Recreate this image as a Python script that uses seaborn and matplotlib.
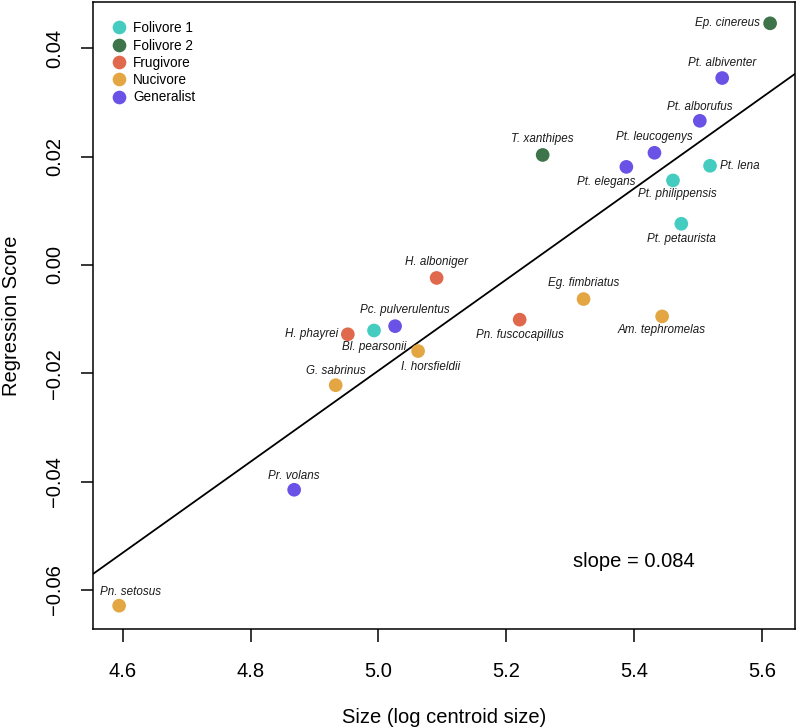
import numpy as np
import pandas as pd
import matplotlib
matplotlib.use("Agg")
import matplotlib.pyplot as plt
import seaborn as sns

# species, diet group, size (log centroid size), regression score
species = [
    "Ep. cinereus", "Pt. albiventer", "Pt. alborufus", "Pt. leucogenys",
    "Pt. elegans", "Pt. lena", "Pt. philippensis", "Pt. petaurista",
    "T. xanthipes", "H. alboniger", "Eg. fimbriatus", "Am. tephromelas",
    "Pn. fuscocapillus", "Pc. pulverulentus", "Bl. pearsonii", "H. phayrei",
    "I. horsfieldii", "G. sabrinus", "Pr. volans", "Pn. setosus",
]
diet = [
    "Folivore 2", "Generalist", "Generalist", "Generalist",
    "Generalist", "Folivore 1", "Folivore 1", "Folivore 1",
    "Folivore 2", "Frugivore", "Nucivore", "Nucivore",
    "Frugivore", "Generalist", "Folivore 1", "Frugivore",
    "Nucivore", "Nucivore", "Generalist", "Nucivore",
]
size = [
    5.613, 5.538, 5.503, 5.432,
    5.388, 5.519, 5.461, 5.474,
    5.257, 5.091, 5.321, 5.444,
    5.221, 5.026, 4.993, 4.952,
    5.062, 4.933, 4.868, 4.594,
]
score = [
    0.0446, 0.0345, 0.0266, 0.0207,
    0.0181, 0.0183, 0.0156, 0.0076,
    0.0203, -0.0024, -0.0063, -0.0095,
    -0.0101, -0.0113, -0.0121, -0.0128,
    -0.0159, -0.0222, -0.0415, -0.0629,
]

groups = ["Folivore 1", "Folivore 2", "Frugivore", "Nucivore", "Generalist"]
colors = ["#45CCC0", "#3D7449", "#E0684C", "#E3A642", "#6B52E6"]

slope = 0.084
intercept = -0.4395

x_ticks = [4.6, 4.8, 5.0, 5.2, 5.4, 5.6]
y_ticks = [-0.06, -0.04, -0.02, 0.00, 0.02, 0.04]

# label placement: offset in pixels from the point, horizontal alignment
label_pos = {
    "Ep. cinereus": (-10, 0, "right"),
    "Pt. albiventer": (0, 15, "center"),
    "Pt. alborufus": (0, 14, "center"),
    "Pt. leucogenys": (0, 16, "center"),
    "Pt. elegans": (-20, -15, "center"),
    "Pt. lena": (10, 0, "left"),
    "Pt. philippensis": (4, -14, "center"),
    "Pt. petaurista": (0, -15, "center"),
    "T. xanthipes": (0, 16, "center"),
    "H. alboniger": (0, 16, "center"),
    "Eg. fimbriatus": (0, 16, "center"),
    "Am. tephromelas": (0, -14, "center"),
    "Pn. fuscocapillus": (0, -15, "center"),
    "Pc. pulverulentus": (10, 16, "center"),
    "Bl. pearsonii": (0, -17, "center"),
    "H. phayrei": (-10, 0, "right"),
    "I. horsfieldii": (13, -16, "center"),
    "G. sabrinus": (0, 14, "center"),
    "Pr. volans": (0, 14, "center"),
    "Pn. setosus": (11, 14, "center"),
}


def make_plot():
    df = pd.DataFrame({"species": species, "diet": diet, "size": size, "score": score})

    sns.set_style("white")
    plt.rcParams["font.family"] = ["Liberation Sans", "DejaVu Sans"]
    plt.rcParams["text.color"] = "black"
    plt.rcParams["axes.labelcolor"] = "black"
    plt.rcParams["xtick.color"] = "black"
    plt.rcParams["ytick.color"] = "black"

    fig, ax = plt.subplots(figsize=(7.97, 7.28), dpi=100)
    fig.subplots_adjust(left=0.117, right=0.9975, top=0.997, bottom=0.136)

    sns.scatterplot(data=df, x="size", y="score", hue="diet", hue_order=groups,
                    palette=dict(zip(groups, colors)), s=97, linewidth=0,
                    alpha=1, ax=ax, zorder=3)

    ax.axline((0, intercept), slope=slope, color="black", lw=1.3, zorder=2)

    for _, row in df.iterrows():
        dx, dy, ha = label_pos[row["species"]]
        ax.annotate(row["species"], (row["size"], row["score"]),
                    xytext=(dx, dy), textcoords="offset pixels",
                    ha=ha, va="center", fontsize=8.4, style="italic",
                    color="#1a1a1a", zorder=4)

    ax.text(0.771, 0.107, "slope = 0.084", transform=ax.transAxes,
            ha="center", va="center", fontsize=14.5)

    ax.set_xlim(4.5535, 5.652)
    ax.set_ylim(-0.0672, 0.0485)
    ax.set_xticks(x_ticks)
    ax.set_xticklabels([f"{t:.1f}" for t in x_ticks])
    ax.set_yticks(y_ticks)
    ax.set_yticklabels([f"{t:.2f}".replace("-", "\u2212") for t in y_ticks],
                       rotation=90, va="center")
    ax.tick_params(axis="both", direction="out", length=9, width=1.1,
                   labelsize=14.5, bottom=True, left=True)
    ax.tick_params(axis="x", pad=15)
    ax.tick_params(axis="y", pad=12)
    for sp in ax.spines.values():
        sp.set_color("black")
        sp.set_linewidth(1.1)

    ax.set_xlabel("Size (log centroid size)", fontsize=14.5, labelpad=19)
    ax.set_ylabel("Regression Score", fontsize=14.5)
    ax.yaxis.set_label_coords(-0.103, 0.5)

    handles, labels = ax.get_legend_handles_labels()
    ax.legend(handles, labels, loc="upper left", bbox_to_anchor=(-0.0014, 0.9978),
              frameon=False, fontsize=9.8, handletextpad=0.3, handlelength=1.4,
              labelspacing=0.24, markerscale=1.0, borderaxespad=0.9)

    fig.savefig("out.png", dpi=100)
    plt.close(fig)


if __name__ == "__main__":
    make_plot()
